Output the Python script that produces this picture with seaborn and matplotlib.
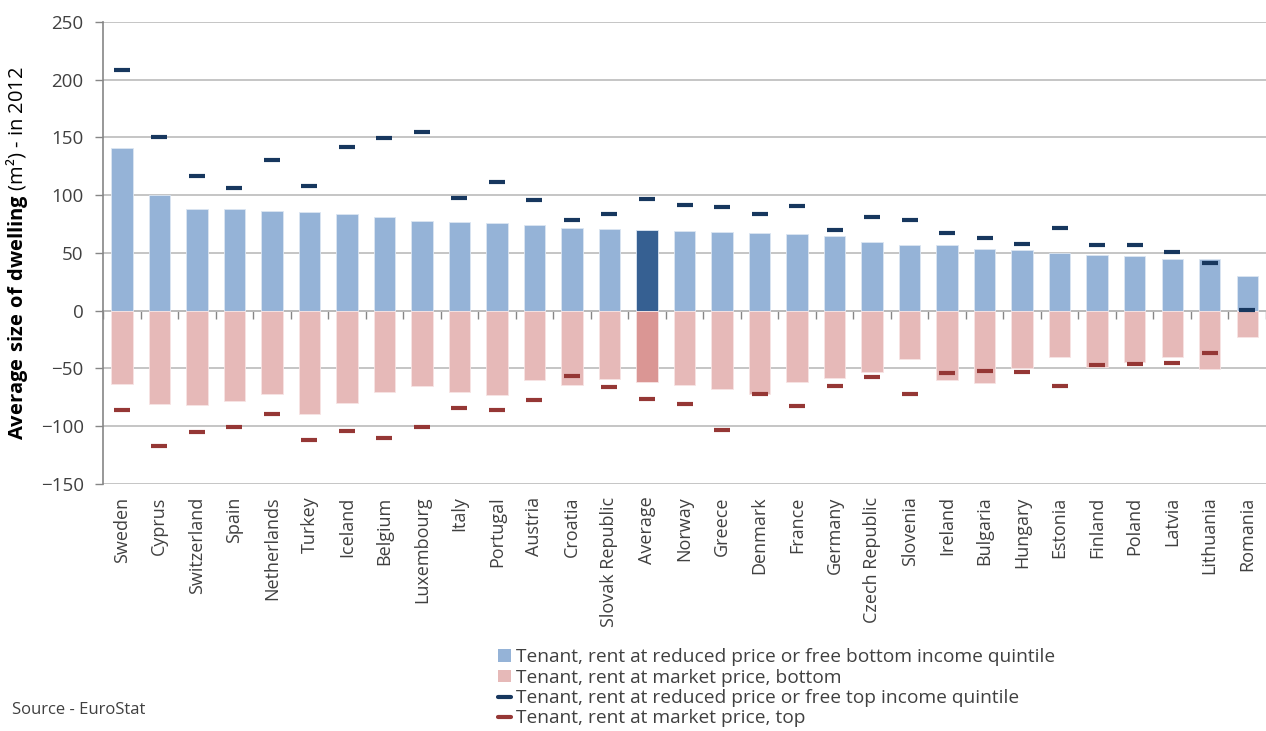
import numpy as np
import pandas as pd
import seaborn as sns
import matplotlib.pyplot as plt
from matplotlib.patches import Patch
from matplotlib.lines import Line2D

# values (m2, market-price series drawn below zero)
countries = ['Sweden', 'Cyprus', 'Switzerland', 'Spain', 'Netherlands', 'Turkey', 'Iceland',
             'Belgium', 'Luxembourg', 'Italy', 'Portugal', 'Austria', 'Croatia', 'Slovak Republic',
             'Average', 'Norway', 'Greece', 'Denmark', 'France', 'Germany', 'Czech Republic',
             'Slovenia', 'Ireland', 'Bulgaria', 'Hungary', 'Estonia', 'Finland', 'Poland',
             'Latvia', 'Lithuania', 'Romania']
reduced_bottom = [141, 100, 88, 88, 86.7, 85.8, 84, 81.5, 77.5, 76.6, 75.7, 74, 71.4, 70.5,
                  69.7, 68.8, 67.9, 67, 66.2, 64.5, 59.5, 56.9, 56.9, 53.5, 52.6, 49.7, 48.3,
                  47.4, 44.8, 44.8, 30.3]
market_bottom = [-63.5, -80.6, -81.5, -78, -71.9, -89.8, -79.7, -70.2, -65, -70.2, -72.8, -60,
                 -64.4, -59.2, -61.8, -64.4, -67.6, -71.9, -61.8, -58.3, -53.4, -42.1, -60,
                 -62.7, -49.4, -39.9, -48.5, -44.7, -40.4, -50.8, -22.5]
reduced_top = [208.6, 150, 117, 106.6, 130.6, 108.3, 141.6, 149.4, 155, 97.4, 111, 95.7, 78.6,
               83.8, 96.5, 91.3, 89.9, 83.8, 90.5, 70.2, 81.2, 78.6, 67.6, 63.3, 57.5, 71.9,
               56.7, 56.7, 50.6, 41.3, 0.6]
market_top = [-86, -117.5, -104.8, -100.5, -89.5, -112.3, -104, -110.6, -100.5, -84.3, -86,
              -77.6, -56.3, -65.9, -76.8, -80.9, -103.1, -72.5, -82.6, -65, -57.2, -72.5,
              -53.7, -52, -53.1, -65, -47, -45.9, -45.3, -36.9, np.nan]

legend_labels = ['Tenant, rent at reduced price or free bottom income quintile',
                 'Tenant, rent at market price, bottom',
                 'Tenant, rent at reduced price or free top income quintile',
                 'Tenant, rent at market price, top']

df = pd.DataFrame({'country': countries, 'reduced_bottom': reduced_bottom,
                   'market_bottom': market_bottom, 'reduced_top': reduced_top,
                   'market_top': market_top})

sns.set_style('white')
plt.rcParams['font.family'] = ['Open Sans', 'DejaVu Sans']
plt.rcParams['mathtext.fontset'] = 'custom'
plt.rcParams['mathtext.rm'] = 'Open Sans'
plt.rcParams['mathtext.bf'] = 'Open Sans:bold'

BLUE, BLUE_AVG = '#95B3D7', '#366092'
PINK, PINK_AVG = '#E6B9B8', '#DA9694'
NAVY, DARKRED = '#17375E', '#953735'
GRID, AXIS, TXT = '#C0C0C0', '#868686', '#404040'

blue_pal = [BLUE_AVG if c == 'Average' else BLUE for c in countries]
pink_pal = [PINK_AVG if c == 'Average' else PINK for c in countries]

fig = plt.figure(figsize=(12.66, 7.31), dpi=100)
ax = fig.add_axes([0.0814, 0.3379, 0.9186, 0.6321])

sns.barplot(data=df, x='country', y='reduced_bottom', hue='country', palette=blue_pal,
            saturation=1, legend=False, width=0.57, edgecolor='#DCE6F2', linewidth=0.6, ax=ax)
sns.barplot(data=df, x='country', y='market_bottom', hue='country', palette=pink_pal,
            saturation=1, legend=False, width=0.57, edgecolor='#F7E4E4', linewidth=0.6, ax=ax)
sns.pointplot(data=df, x='country', y='reduced_top', color=NAVY, linestyle='none',
              markers='_', markersize=12, markeredgewidth=3, errorbar=None, ax=ax)
sns.pointplot(data=df, x='country', y='market_top', color=DARKRED, linestyle='none',
              markers='_', markersize=12, markeredgewidth=3, errorbar=None, ax=ax)

ax.set_xlim(-0.5, len(countries) - 0.5)
ax.set_ylim(-150, 250)
ax.set_yticks(range(-150, 251, 50))
ax.yaxis.grid(True, color=GRID, linewidth=1.3)
ax.set_axisbelow(True)
for s in ['top', 'right', 'bottom']:
    ax.spines[s].set_visible(False)
ax.spines['left'].set_color(AXIS)
ax.spines['left'].set_linewidth(1.2)

ax.set_xlabel('')
ax.set_xticks(range(len(countries)))
ax.set_xticklabels(countries, rotation=90, fontsize=13, color=TXT)
ax.tick_params(axis='x', length=0, pad=9)
ax.tick_params(axis='y', length=6, width=1, color=AXIS, direction='out',
               labelsize=13.5, labelcolor=TXT, pad=8, left=True)

# horizontal category axis sits at zero, like the Excel original
zero_axis = ax.secondary_xaxis(150 / 400)
zero_axis.set_xticks(np.arange(-0.5, len(countries), 1.0))
zero_axis.tick_params(axis='x', length=6, width=1, color=AXIS, direction='out',
                      labelbottom=False)
zero_axis.spines['bottom'].set_color(AXIS)
zero_axis.spines['bottom'].set_linewidth(1.4)

ax.set_ylabel(r'$\mathbf{Average\ size\ of\ dwelling}$ (m²) - in 2012', fontsize=14.5,
              color='black')
ax.yaxis.set_label_coords(-0.063, 0.5)

handles = [Patch(facecolor=BLUE, edgecolor='none'),
           Patch(facecolor=PINK, edgecolor='none'),
           Line2D([], [], color=NAVY, lw=3),
           Line2D([], [], color=DARKRED, lw=3)]
fig.legend(handles, legend_labels, loc='upper left', bbox_to_anchor=(0.386, 0.126),
           frameon=False, fontsize=13.8, handlelength=0.65, handleheight=0.65,
           handletextpad=0.25, labelspacing=0.12, borderpad=0, labelcolor=TXT)

fig.text(12 / 1266, 1 - 710 / 731, 'Source - EuroStat', fontsize=12, color=TXT,
         va='center', ha='left')

fig.savefig('out.png', dpi=100)
